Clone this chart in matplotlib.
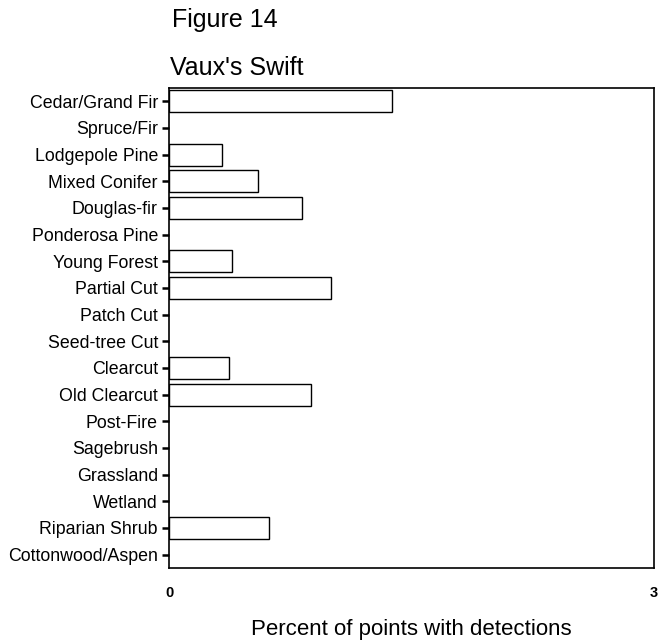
import matplotlib
matplotlib.use("Agg")
import matplotlib.pyplot as plt

plt.rcParams['font.family'] = ['Liberation Sans', 'DejaVu Sans']

categories = ["Cedar/Grand Fir", "Spruce/Fir", "Lodgepole Pine", "Mixed Conifer",
              "Douglas-fir", "Ponderosa Pine", "Young Forest", "Partial Cut",
              "Patch Cut", "Seed-tree Cut", "Clearcut", "Old Clearcut", "Post-Fire",
              "Sagebrush", "Grassland", "Wetland", "Riparian Shrub", "Cottonwood/Aspen"]
values = [1.38, 0, 0.33, 0.55, 0.82, 0, 0.39, 1.00, 0, 0, 0.37, 0.88, 0, 0, 0, 0, 0.62, 0]
xticks = [0, 3]
xticklabels = ["0", "3"]

fig = plt.figure(figsize=(6.63, 6.43), dpi=100)
ax = fig.add_axes([169/663, 1-568/643, (654-169)/663, (568-88)/643])

ypos = list(range(len(categories)))
for y, v in zip(ypos, values):
    if v > 0:
        ax.barh(y, v, height=0.82, color='white', edgecolor='black', linewidth=1.0)

ax.set_ylim(len(categories) - 0.5, -0.5)
ax.set_xlim(0, 3)
ax.set_yticks(ypos)
ax.set_yticklabels(categories, fontsize=12.8)
ax.set_xticks(xticks)
ax.set_xticklabels(xticklabels, fontsize=10.5, fontweight='bold')
ax.tick_params(axis='y', direction='out', length=5, width=1.8, pad=3)
ax.tick_params(axis='x', length=0, pad=13)
for s in ax.spines.values():
    s.set_linewidth(1.2)

fig.text(172/663, 1-20.5/643, "Figure 14", fontsize=18, ha='left', va='center')
fig.text(170/663, 1-67.6/643, "Vaux's Swift", fontsize=18, ha='left', va='center')
fig.text(411.5/663, 1-629/643, "Percent of points with detections", fontsize=16, ha='center', va='center')

fig.savefig("out.png", dpi=100)
